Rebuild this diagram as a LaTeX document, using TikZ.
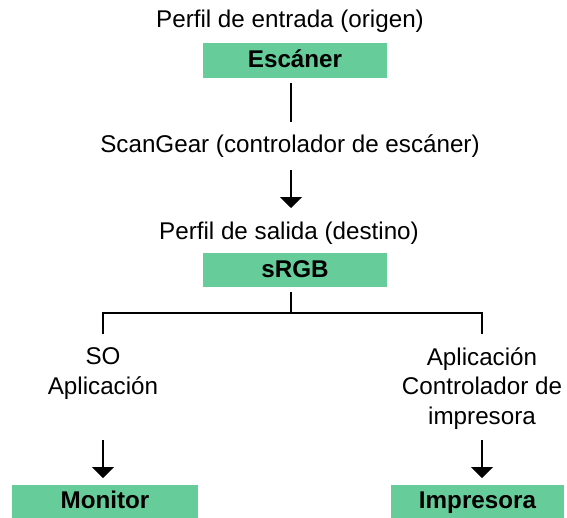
\documentclass[tikz,border=0pt]{standalone}
\usepackage{fontspec}
\setmainfont{Liberation Sans}
\usetikzlibrary{arrows.meta}
\definecolor{boxgreen}{HTML}{66CC99}
\begin{document}
\begin{tikzpicture}[x=1pt,y=-1pt,
  lbl/.style={font=\fontsize{24.2}{29.5}\selectfont, align=center, inner sep=0pt},
  gbox/.style={fill=boxgreen, font=\fontsize{24.2}{28}\selectfont\bfseries, inner sep=0pt, text height=18pt, text depth=4pt, minimum width=184pt, minimum height=35pt},
  plain/.style={line width=1.6pt, black},
  arr/.style={line width=1.6pt, black, -{Triangle[width=22pt,length=11pt]}}]
\useasboundingbox (0,0) rectangle (567,517);
\node[lbl] (in) at (290,21.5) {Perfil de entrada (origen)};
\node[gbox] (scan) at (295,60.5) {Escáner};
\node[lbl] (sg) at (290,146.5) {ScanGear (controlador de escáner)};
\node[lbl] (out) at (289,233.5) {Perfil de salida (destino)};
\node[gbox, minimum height=34pt] (srgb) at (295,270) {sRGB};
\coordinate (br) at (291,313);
\coordinate (bl) at (103,313);
\coordinate (bR) at (482,313);
\node[lbl] (left) at (103,373.5) {SO\\Aplicación};
\node[lbl] (right) at (482,388.5) {Aplicación\\Controlador de\\impresora};
\node[gbox, minimum width=186pt, minimum height=33pt] (mon) at (105,501.5) {Monitor};
\node[gbox, minimum width=173pt, minimum height=33pt] (imp) at (477.5,501.5) {Impresora};
\draw[plain] (scan.south -| br) ++(0,5) -- (291,122);
\draw[arr] (291,170) -- (291,208);
\draw[plain] (srgb.south -| br) ++(0,5) -- (br);
\draw[plain] (bl) ++(0,21) -- (bl) -- (bR) -- ++(0,21);
\draw[arr] (103,440) -- (103,478);
\draw[arr] (482,440) -- (482,478);
\end{tikzpicture}
\end{document}
